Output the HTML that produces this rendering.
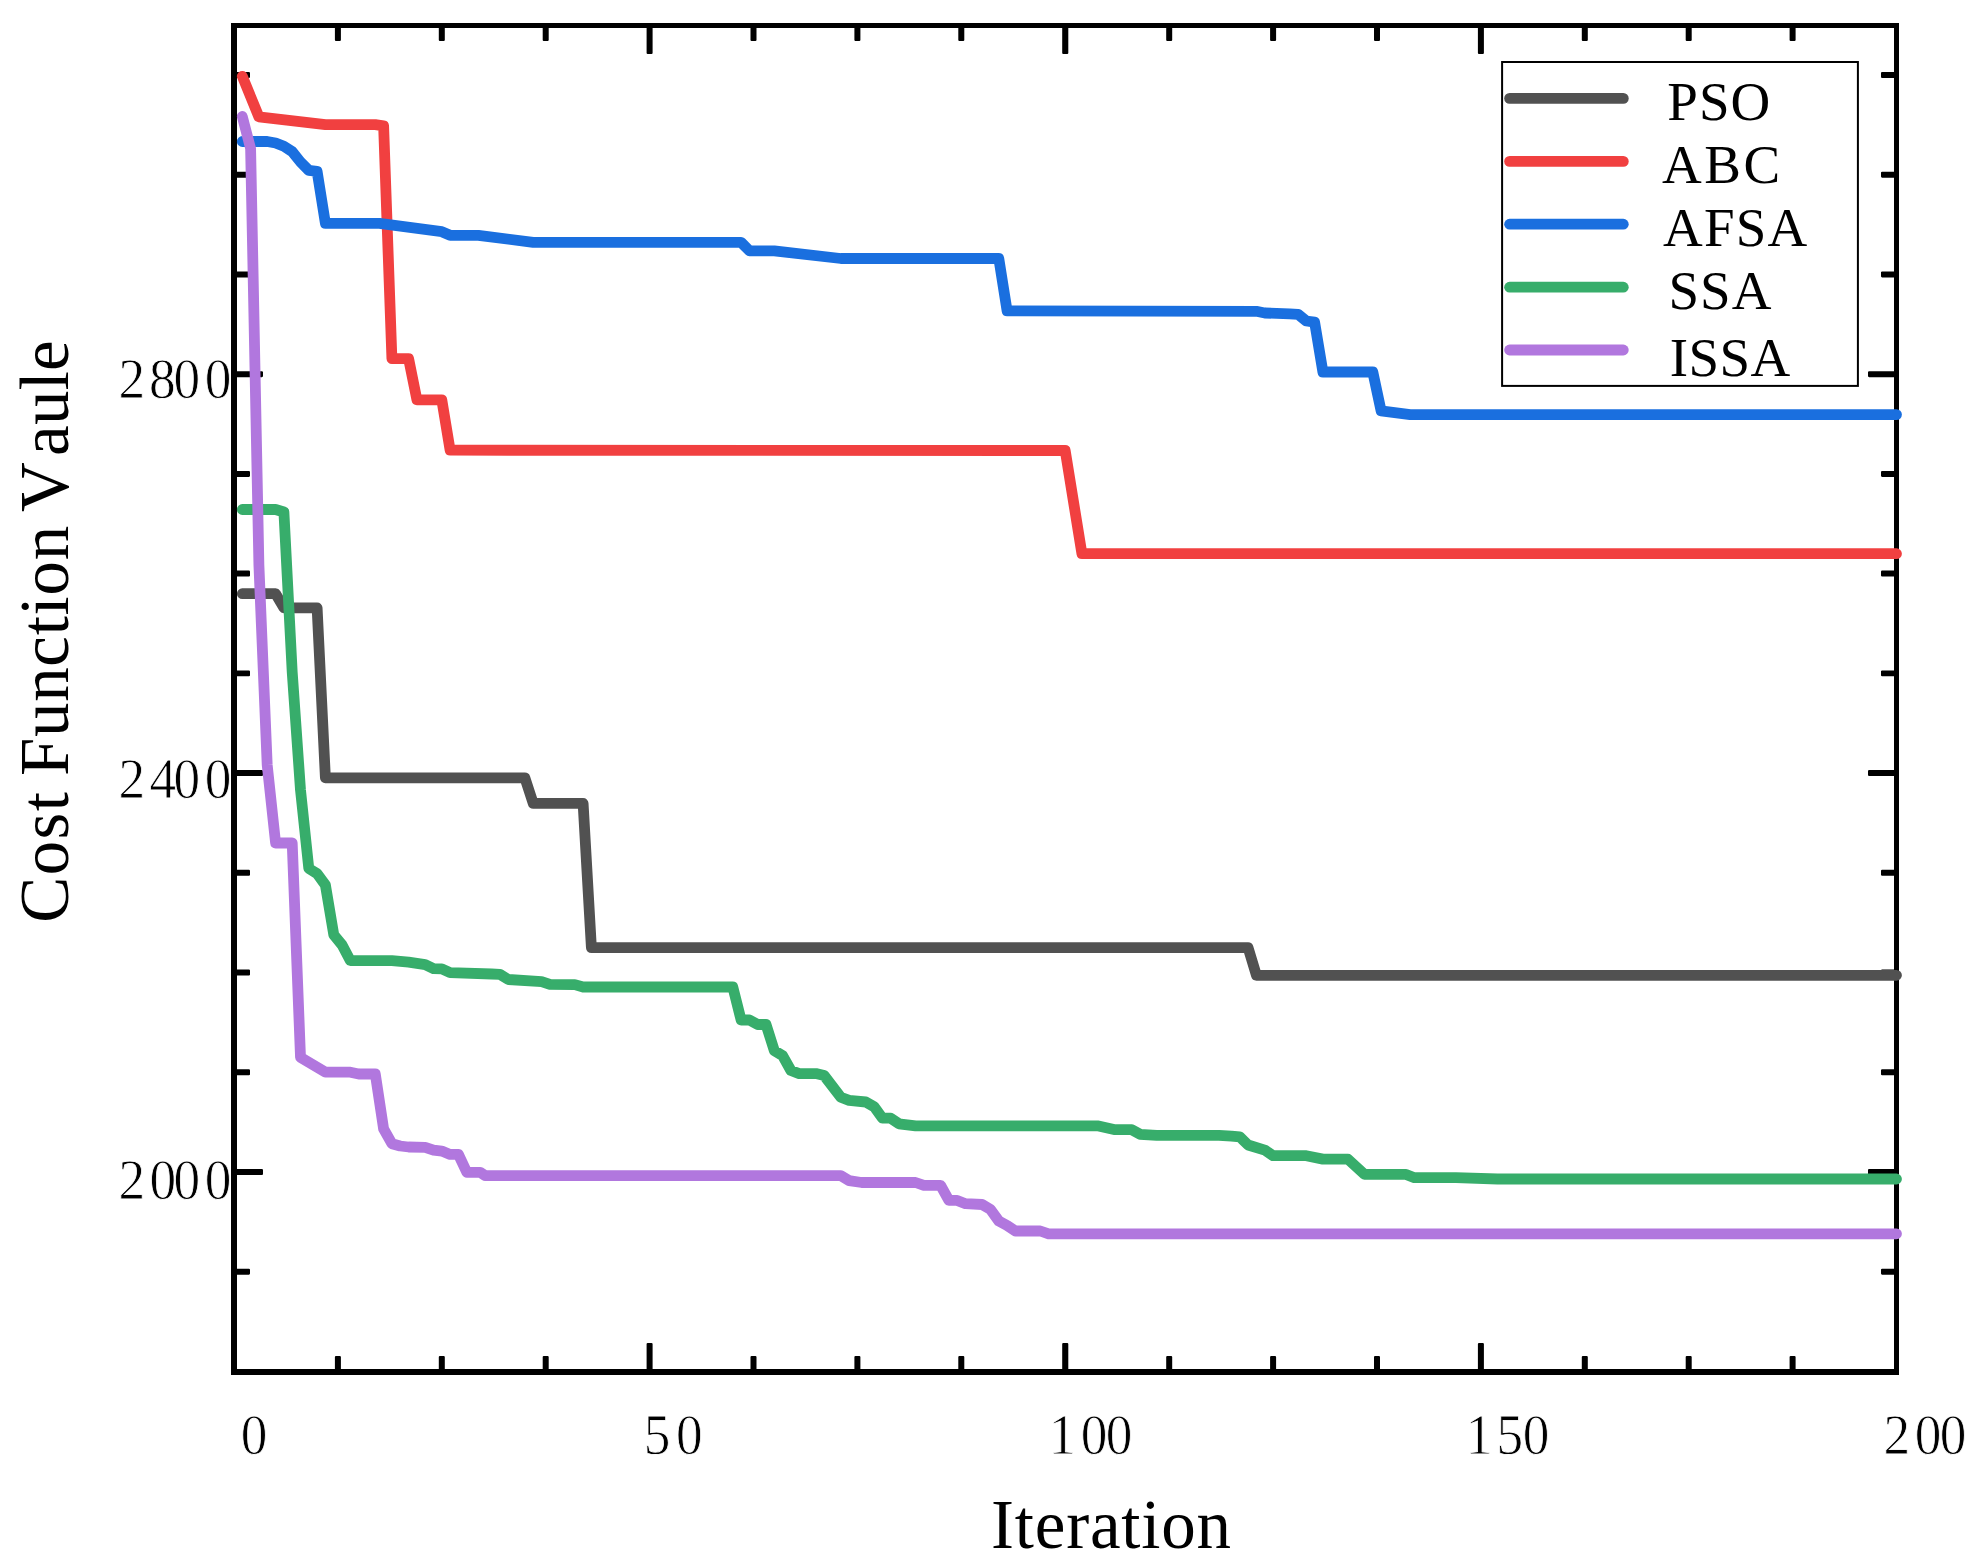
<!DOCTYPE html>
<html lang="en">
<head>
<meta charset="utf-8">
<title>Cost Function Vaule vs Iteration</title>
<style>
html,body{margin:0;padding:0;background:#fff;}
body{width:1982px;height:1567px;overflow:hidden;}
svg{display:block;}
text{font-family:"Liberation Serif",serif;fill:#000;font-kerning:none;}
.tk{font-size:57.2px;stroke:#fff;stroke-width:0.8px;}
.ttl{font-size:69px;}
.lg{font-size:55px;}
.ax{stroke:#000;fill:none;}
.cv{fill:none;stroke-width:10.8;stroke-linejoin:round;stroke-linecap:round;}
</style>
</head>
<body>
<svg width="1982" height="1567" viewBox="0 0 1982 1567">
<rect width="1982" height="1567" fill="#fff"/>
<path fill="#000" d="M231 23H1899V1375H231ZM237 28V1369H1894V28Z" fill-rule="evenodd"/>
<path fill="#000" stroke="#000" stroke-width="2.2" stroke-linejoin="round" d="M336.0 1357.1H339.8V1369.9H336.0ZM336.0 27.1H339.8V39.9H336.0ZM439.9 1357.1H443.7V1369.9H439.9ZM439.9 27.1H443.7V39.9H439.9ZM543.8 1357.1H547.6V1369.9H543.8ZM543.8 27.1H547.6V39.9H543.8ZM647.7 1344.1H651.5V1369.9H647.7ZM647.7 27.1H651.5V52.9H647.7ZM751.6 1357.1H755.4V1369.9H751.6ZM751.6 27.1H755.4V39.9H751.6ZM855.5 1357.1H859.3V1369.9H855.5ZM855.5 27.1H859.3V39.9H855.5ZM959.4 1357.1H963.2V1369.9H959.4ZM959.4 27.1H963.2V39.9H959.4ZM1063.3 1344.1H1067.2V1369.9H1063.3ZM1063.3 27.1H1067.2V52.9H1063.3ZM1167.3 1357.1H1171.1V1369.9H1167.3ZM1167.3 27.1H1171.1V39.9H1167.3ZM1271.2 1357.1H1275.0V1369.9H1271.2ZM1271.2 27.1H1275.0V39.9H1271.2ZM1375.1 1357.1H1378.9V1369.9H1375.1ZM1375.1 27.1H1378.9V39.9H1375.1ZM1479.0 1344.1H1482.8V1369.9H1479.0ZM1479.0 27.1H1482.8V52.9H1479.0ZM1582.9 1357.1H1586.7V1369.9H1582.9ZM1582.9 27.1H1586.7V39.9H1582.9ZM1686.8 1357.1H1690.6V1369.9H1686.8ZM1686.8 27.1H1690.6V39.9H1686.8ZM1790.7 1357.1H1794.5V1369.9H1790.7ZM1790.7 27.1H1794.5V39.9H1790.7ZM236.1 1269.8H248.9V1273.6H236.1ZM1882.1 1269.8H1894.9V1273.6H1882.1ZM236.1 1170.1H261.9V1173.9H236.1ZM1869.1 1170.1H1894.9V1173.9H1869.1ZM236.1 1070.4H248.9V1074.2H236.1ZM1882.1 1070.4H1894.9V1074.2H1882.1ZM236.1 970.6H248.9V974.4H236.1ZM1882.1 970.6H1894.9V974.4H1882.1ZM236.1 870.9H248.9V874.7H236.1ZM1882.1 870.9H1894.9V874.7H1882.1ZM236.1 771.2H261.9V775.0H236.1ZM1869.1 771.2H1894.9V775.0H1869.1ZM236.1 671.5H248.9V675.2H236.1ZM1882.1 671.5H1894.9V675.2H1882.1ZM236.1 571.7H248.9V575.5H236.1ZM1882.1 571.7H1894.9V575.5H1882.1ZM236.1 472.0H248.9V475.8H236.1ZM1882.1 472.0H1894.9V475.8H1882.1ZM236.1 372.3H261.9V376.1H236.1ZM1869.1 372.3H1894.9V376.1H1869.1ZM236.1 272.5H248.9V276.3H236.1ZM1882.1 272.5H1894.9V276.3H1882.1ZM236.1 172.8H248.9V176.6H236.1ZM1882.1 172.8H1894.9V176.6H1882.1ZM236.1 73.1H248.9V76.9H236.1ZM1882.1 73.1H1894.9V76.9H1882.1Z"/>
<polyline class="cv" stroke="#515151" points="242.3,593.7 275.6,593.7 283.9,607.8 317.1,607.8 325.4,777.8 524.9,777.8 533.2,803.4 583.1,803.4 591.4,947.7 1248.1,947.7 1256.4,975.3 1896.5,975.3"/>
<polyline class="cv" stroke="#F14040" points="242.3,76.3 258.9,116.9 325.4,124.7 375.3,124.7 383.6,125.8 391.9,358.6 408.6,358.6 416.9,399.8 441.8,399.8 450.1,450.2 1065.2,450.5 1081.9,553.7 1896.5,553.7"/>
<polyline class="cv" stroke="#1A6FDF" points="242.3,141.5 267.2,141.5 275.6,143.0 283.9,146.3 292.2,151.6 300.5,162.0 308.8,170.4 317.1,171.4 325.4,223.4 379.5,223.4 441.8,231.7 450.1,235.3 478.4,235.3 533.2,242.4 741.1,242.4 749.4,250.8 774.3,250.8 840.8,258.5 998.8,258.5 1007.1,310.8 1256.4,311.3 1264.8,313.0 1289.7,313.8 1298.0,314.3 1306.3,321.0 1314.6,322.2 1322.9,372.0 1372.8,372.0 1381.1,410.8 1410.2,414.6 1896.5,414.6"/>
<polyline class="cv" stroke="#37AD6B" points="242.3,509.5 275.6,509.5 283.9,512.0 292.2,672.0 300.5,790.0 308.8,868.5 317.1,873.6 325.4,885.0 333.8,934.8 342.1,945.0 350.4,960.7 391.9,960.7 408.6,962.2 425.2,964.6 433.5,968.6 441.8,968.9 450.1,972.7 491.7,974.0 500.0,974.3 508.3,979.5 541.6,981.6 549.9,984.3 574.8,984.6 583.1,987.0 732.8,987.0 741.1,1020.0 749.4,1020.0 757.7,1024.5 766.0,1024.5 774.3,1050.6 782.6,1055.7 790.9,1070.5 799.2,1073.6 815.9,1073.6 824.2,1075.6 840.8,1097.3 849.1,1100.4 865.8,1102.0 874.1,1106.7 882.4,1118.2 890.7,1118.2 899.0,1123.8 915.6,1125.9 1098.5,1125.9 1115.1,1129.7 1131.8,1129.7 1140.1,1134.3 1156.7,1135.3 1219.0,1135.3 1231.5,1136.1 1239.8,1136.9 1248.1,1145.0 1264.8,1150.1 1273.1,1155.7 1306.3,1155.7 1322.9,1159.1 1347.9,1159.1 1364.5,1174.4 1406.1,1174.4 1414.4,1177.7 1455.9,1177.7 1497.5,1179.0 1896.5,1179.0"/>
<polyline class="cv" stroke="#B177DE" points="242.3,116.5 250.6,148.5 258.9,565.0 267.2,765.0 275.6,843.0 292.2,843.0 300.5,1057.4 325.4,1072.2 350.4,1072.2 358.7,1074.0 375.3,1074.0 383.6,1128.9 391.9,1143.7 400.2,1146.0 408.6,1147.0 425.2,1147.3 433.5,1150.1 441.8,1151.1 450.1,1154.4 458.4,1154.4 466.8,1172.3 480.1,1172.3 485.0,1175.6 840.8,1175.6 849.1,1180.7 861.6,1182.5 915.6,1182.5 923.9,1185.3 940.6,1185.3 948.9,1200.4 957.2,1200.4 965.5,1203.7 982.1,1204.5 990.4,1209.3 998.8,1221.0 1007.1,1225.4 1015.4,1231.0 1040.3,1231.0 1048.6,1233.8 1896.5,1233.8"/>
<rect class="ax" x="1502.1" y="62" width="355.8" height="323.9" stroke-width="2" fill="#fff"/>
<line x1="1509.6" y1="98.4" x2="1623.3" y2="98.4" stroke="#515151" stroke-width="10.8" stroke-linecap="round"/>
<text class="lg" x="1667.3" y="120.0" letter-spacing="1">PSO</text>
<line x1="1509.6" y1="161.4" x2="1623.3" y2="161.4" stroke="#F14040" stroke-width="10.8" stroke-linecap="round"/>
<text class="lg" x="1662.1" y="182.8" letter-spacing="2.5">ABC</text>
<line x1="1509.6" y1="224.2" x2="1623.3" y2="224.2" stroke="#1A6FDF" stroke-width="10.8" stroke-linecap="round"/>
<text class="lg" x="1663.0" y="245.9" letter-spacing="1.2">AFSA</text>
<line x1="1509.6" y1="287.2" x2="1623.3" y2="287.2" stroke="#37AD6B" stroke-width="10.8" stroke-linecap="round"/>
<text class="lg" x="1668.5" y="309.2" letter-spacing="1.0">SSA</text>
<line x1="1509.6" y1="350.0" x2="1623.3" y2="350.0" stroke="#B177DE" stroke-width="10.8" stroke-linecap="round"/>
<text class="lg" x="1669.7" y="375.5" letter-spacing="0.4">ISSA</text>
<text class="tk" transform="scale(0.932 1)" x="258.2" y="1454.0">0</text>
<text class="tk" transform="scale(0.932 1)" x="690.6 725.2" y="1454.0">50</text>
<text class="tk" transform="scale(0.932 1)" x="1125.5 1159.6 1186.5" y="1454.0">100</text>
<text class="tk" transform="scale(0.932 1)" x="1572.8 1605.8 1633.9" y="1454.0">150</text>
<text class="tk" transform="scale(0.932 1)" x="2021.0 2054.4 2081.2" y="1454.0">200</text>
<text class="tk" transform="scale(0.932 1)" x="127.2 160.0 186.3 219.7" y="397.9">2800</text>
<text class="tk" transform="scale(0.932 1)" x="127.2 160.4 186.3 219.7" y="797.9">2400</text>
<text class="tk" transform="scale(0.932 1)" x="127.2 160.5 186.3 219.7" y="1199.0">2000</text>
<text class="ttl" x="991.1" y="1547.7" letter-spacing="0.78">Iteration</text>
<text class="ttl" transform="translate(68.4 924) rotate(-90)"><tspan x="1.2" letter-spacing="1.43">Cost </tspan><tspan x="147.9" letter-spacing="0.7">Function </tspan><tspan x="411.9">V</tspan><tspan x="468.1" letter-spacing="0.23">aule</tspan></text>
</svg>
</body>
</html>
